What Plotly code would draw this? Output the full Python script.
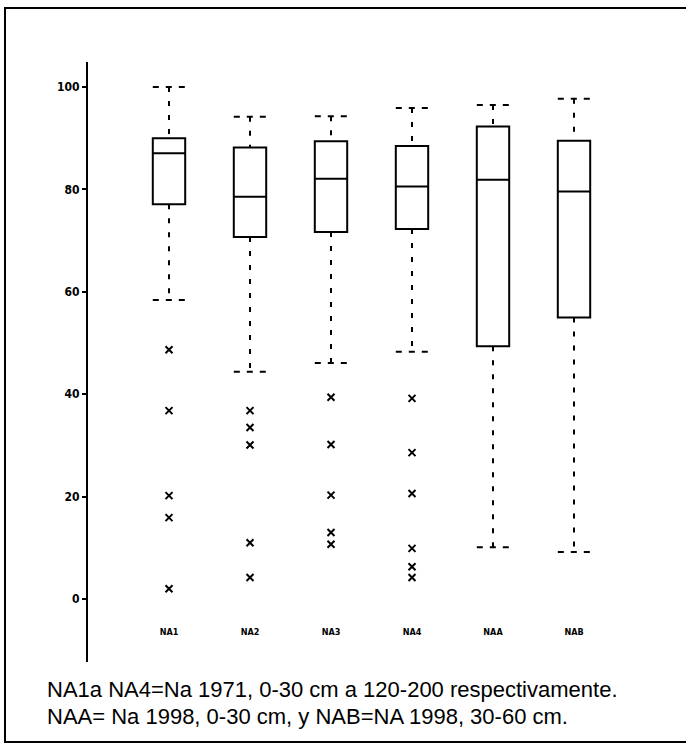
import plotly.graph_objects as go

# Sample groups
labels = ["NA1", "NA2", "NA3", "NA4", "NAA", "NAB"]

# Box statistics per group (percent)
upper_whisker = [100.0, 94.2, 94.3, 95.9, 96.5, 97.7]
q3 = [90.0, 88.2, 89.4, 88.5, 92.3, 89.5]
median = [87.1, 78.6, 82.1, 80.6, 81.9, 79.6]
q1 = [77.1, 70.7, 71.7, 72.3, 49.4, 55.0]
lower_whisker = [58.4, 44.4, 46.1, 48.3, 10.1, 9.2]

# Outlying observations per group
outliers = [
    [48.7, 36.8, 20.2, 15.9, 2.0],
    [36.8, 33.5, 30.1, 11.0, 4.2],
    [39.4, 30.2, 20.3, 13.0, 10.7],
    [39.2, 28.6, 20.6, 9.9, 6.3, 4.2],
    [],
    [],
]

y_ticks = [0, 20, 40, 60, 80, 100]

caption_lines = [
    "NA1a NA4=Na 1971, 0-30 cm a 120-200 respectivamente.",
    "NAA= Na 1998, 0-30 cm, y NAB=NA 1998, 30-60 cm.",
]

pos = list(range(len(labels)))
half = 0.2  # half box width in axis units

fig = go.Figure()

# Dashed whiskers
wx, wy = [], []
for p, lo, a, b, hi in zip(pos, lower_whisker, q1, q3, upper_whisker):
    wx += [p, p, None, p, p, None]
    wy += [hi, b, None, a, lo, None]
fig.add_trace(go.Scatter(x=wx, y=wy, mode="lines",
                         line=dict(color="black", width=2, dash="5px,9px"),
                         hoverinfo="skip", showlegend=False))

# Dashed whisker caps
cx, cy = [], []
for p, lo, hi in zip(pos, lower_whisker, upper_whisker):
    cx += [p - half, p + half, None, p - half, p + half, None]
    cy += [hi, hi, None, lo, lo, None]
fig.add_trace(go.Scatter(x=cx, y=cy, mode="lines",
                         line=dict(color="black", width=2, dash="6px,7px"),
                         hoverinfo="skip", showlegend=False))

# Boxes with medians
fig.add_trace(go.Box(
    x=pos, q1=q1, median=median, q3=q3,
    lowerfence=q1, upperfence=q3,
    width=2 * half, boxpoints=False,
    fillcolor="white", line=dict(color="black", width=2),
    whiskerwidth=0, hoverinfo="skip", showlegend=False,
))

# Outliers
ox, oy = [], []
for p, vals in zip(pos, outliers):
    ox += [p] * len(vals)
    oy += vals
fig.add_trace(go.Scatter(x=ox, y=oy, mode="markers",
                         marker=dict(symbol="x-thin", size=7,
                                     line=dict(color="black", width=2)),
                         hoverinfo="skip", showlegend=False))

# Group labels inside the plotting area, under the boxes
fig.add_trace(go.Scatter(x=pos, y=[-6.6] * len(pos), mode="text", text=labels,
                         textfont=dict(family="DejaVu Sans Condensed, DejaVu Sans",
                                       size=9, color="black", weight="bold"),
                         hoverinfo="skip", showlegend=False))

W, H = 686, 743
ml, mr, mt, mb = 88, 31, 62, 81
pw, ph = W - ml - mr, H - mt - mb


def px_x(v):
    return (v - ml) / pw


def px_y(v):
    return (H - mb - v) / ph


fig.update_layout(
    width=W, height=H,
    margin=dict(l=ml, r=mr, t=mt, b=mb, pad=0),
    paper_bgcolor="white", plot_bgcolor="white",
    xaxis=dict(range=[-1, 6], showgrid=False, zeroline=False, showline=False,
               showticklabels=False, ticks=""),
    yaxis=dict(range=[-12.3, 104.9], tickvals=y_ticks,
               ticktext=[str(t) for t in y_ticks],
               showgrid=False, zeroline=False, showline=True,
               linecolor="black", linewidth=2, ticks="outside", ticklen=4,
               tickwidth=2, tickcolor="black",
               tickfont=dict(family="DejaVu Sans Condensed, DejaVu Sans",
                             size=12, color="black", weight="bold")),
    shapes=[dict(type="rect", xref="paper", yref="paper",
                 x0=px_x(5), x1=px_x(700), y0=px_y(742), y1=px_y(8),
                 line=dict(color="black", width=2), layer="below")],
    annotations=[
        dict(text=caption_lines[0], xref="paper", yref="paper",
             x=px_x(45), y=px_y(689), xanchor="left", yanchor="middle",
             showarrow=False,
             font=dict(family="Liberation Sans, Arial, sans-serif", size=22, color="black")),
        dict(text=caption_lines[1], xref="paper", yref="paper",
             x=px_x(45), y=px_y(716), xanchor="left", yanchor="middle",
             showarrow=False,
             font=dict(family="Liberation Sans, Arial, sans-serif", size=22, color="black")),
    ],
)

fig.write_html("out.html")
